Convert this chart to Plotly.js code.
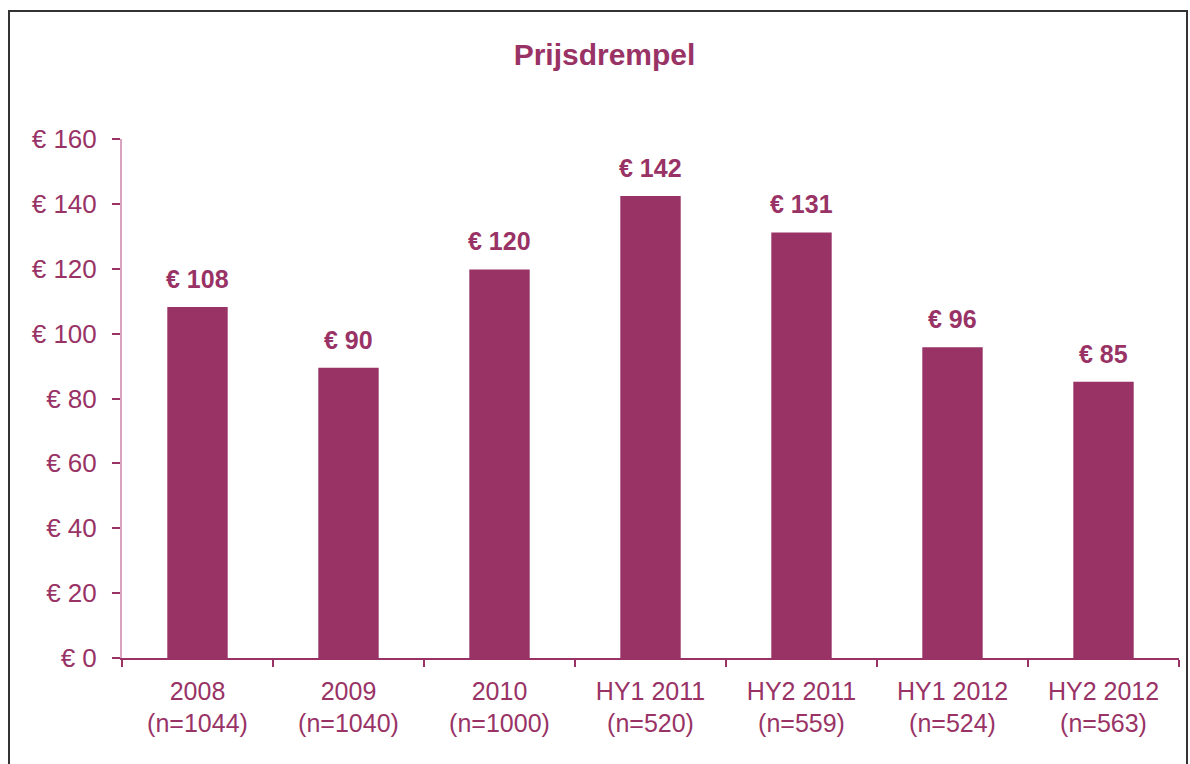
<!DOCTYPE html>
<html>
<head>
<meta charset="utf-8">
<script src="https://cdn.plot.ly/plotly-3.0.1.min.js"></script>
<style>
html,body{margin:0;padding:0;background:#fff;}
#chart{width:1190px;height:764px;}
</style>
</head>
<body>
<div id="chart"></div>
<script>
const categories = ["2008<br>(n=1044)", "2009<br>(n=1040)", "2010<br>(n=1000)", "HY1 2011<br>(n=520)", "HY2 2011<br>(n=559)", "HY1 2012<br>(n=524)", "HY2 2012<br>(n=563)"];
const values = [108.2, 89.5, 119.8, 142.4, 131.2, 95.8, 85.2];
const valueLabels = ["€ 108", "€ 90", "€ 120", "€ 142", "€ 131", "€ 96", "€ 85"];
const yTickValues = [0, 20, 40, 60, 80, 100, 120, 140, 160];
const yTickLabels = ["€ 0", "€ 20", "€ 40", "€ 60", "€ 80", "€ 100", "€ 120", "€ 140", "€ 160"];

const purple = "#993366";
const W = 1190, H = 764;
const L = 122, R = 11, T = 139, B = 106;
const pw = W - L - R, ph = H - T - B;
const px = x => (x - L) / pw;
const py = y => (H - B - y) / ph;

const trace = {
  type: "bar",
  x: categories,
  y: values,
  marker: {color: purple},
  hoverinfo: "skip"
};

const annotations = categories.map((c, i) => ({
  x: c, y: values[i], xref: "x", yref: "y",
  text: "<b>" + valueLabels[i] + "</b>",
  showarrow: false, yanchor: "bottom", yshift: 12,
  font: {family: "Liberation Sans, Arial, sans-serif", size: 25, color: purple}
}));

const layout = {
  width: W, height: H,
  margin: {l: L, r: R, t: T, b: B},
  paper_bgcolor: "#fff", plot_bgcolor: "#fff",
  showlegend: false,
  bargap: 0.6,
  title: {
    text: "<b>Prijsdrempel</b>",
    x: 0.508, xanchor: "center",
    y: 1 - 54 / H, yanchor: "middle",
    font: {family: "Liberation Sans, Arial, sans-serif", size: 30, color: purple}
  },
  xaxis: {
    type: "category",
    showline: true, linecolor: purple, linewidth: 1.5,
    ticks: "outside", tickson: "boundaries", ticklen: 7, tickcolor: purple, tickwidth: 1.5,
    ticklabelstandoff: 10,
    tickfont: {family: "Liberation Sans, Arial, sans-serif", size: 25, color: purple},
    showgrid: false, zeroline: false, fixedrange: true
  },
  yaxis: {
    range: [0, 160],
    tickvals: yTickValues, ticktext: yTickLabels,
    showline: true, linecolor: "#d9a3bf", linewidth: 2,
    ticks: "outside", ticklen: 8, tickcolor: purple, tickwidth: 2,
    ticklabelstandoff: 10,
    tickfont: {family: "Liberation Sans, Arial, sans-serif", size: 26, color: purple},
    showgrid: false, zeroline: false, fixedrange: true
  },
  annotations: annotations,
  shapes: [{
    type: "rect", xref: "paper", yref: "paper",
    x0: px(9), x1: px(1187), y0: py(780), y1: py(11),
    line: {color: "#333333", width: 2}, fillcolor: "rgba(0,0,0,0)", layer: "above"
  }]
};

Plotly.newPlot("chart", [trace], layout, {displayModeBar: false, staticPlot: true});
</script>
</body>
</html>
